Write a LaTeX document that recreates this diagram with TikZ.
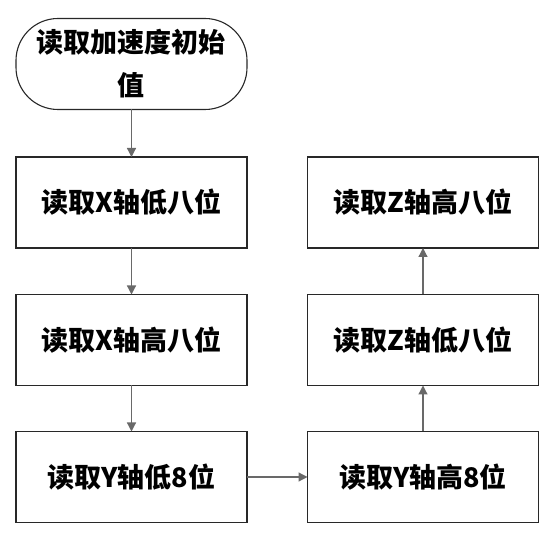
\documentclass[tikz,border=0pt]{standalone}
\usepackage{fontspec}
\usepackage{xcolor}
\usepackage{tikz}
\usetikzlibrary{positioning, arrows.meta}
\newfontfamily\cjk{Noto Sans CJK SC}
\definecolor{lineGray}{RGB}{105,105,105}
\definecolor{boxEdge}{RGB}{40,40,40}
\tikzset{
  stepbox/.style={draw=boxEdge, line width=1.1pt, minimum width=231pt, minimum height=91pt,
    inner sep=0pt, outer sep=0pt, font=\cjk\bfseries\fontsize{27}{43}\selectfont},
  startbox/.style={stepbox, rounded corners=42pt, align=center},
  flow/.style={draw=lineGray, line width=1.2pt, -{Triangle[length=9pt, width=9pt]}}
}
\begin{document}
\begin{tikzpicture}[x=1pt, y=-1pt]
            \useasboundingbox (0,0) rectangle (558,540);
            % Start
            \node[startbox] (start) at (131.5,64) {读取加速度初始\\值};
            % Left column
            \node[stepbox] (xlow) at (131.5,202.5) {读取X轴低八位};
            \node[stepbox] (xhigh) at (131.5,340) {读取X轴高八位};
            \node[stepbox] (ylow) at (131.5,477) {读取Y轴低8位};
            % Right column
            \node[stepbox] (yhigh) at (423,477) {读取Y轴高8位};
            \node[stepbox] (zlow) at (423,340) {读取Z轴低八位};
            \node[stepbox] (zhigh) at (423,202.5) {读取Z轴高八位};
            % Arrows
            \draw[flow] (start) -- (xlow);
            \draw[flow] (xlow) -- (xhigh);
            \draw[flow] (xhigh) -- (ylow);
            \draw[flow] (ylow) -- (yhigh);
            \draw[flow] (yhigh) -- (zlow);
            \draw[flow] (zlow) -- (zhigh);
        \end{tikzpicture}
\end{document}
